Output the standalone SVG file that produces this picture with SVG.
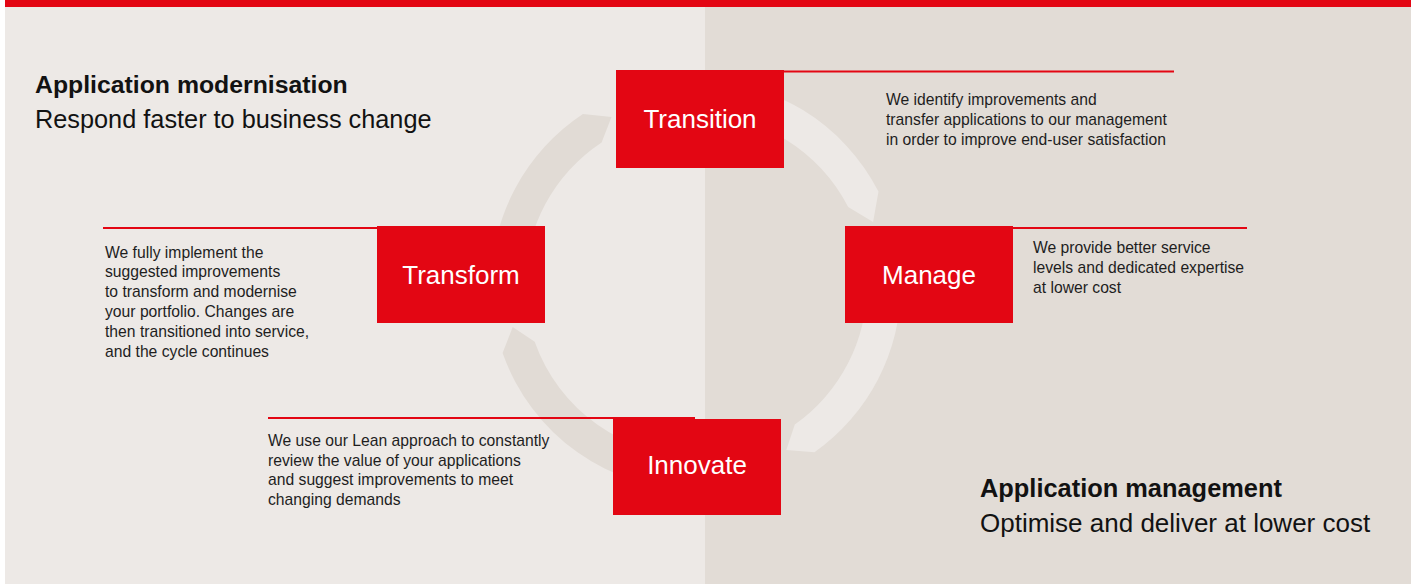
<svg xmlns="http://www.w3.org/2000/svg" xmlns:xlink="http://www.w3.org/1999/xlink" width="1416" height="584" viewBox="0 0 1416 584">
  <style>
    .box { fill: #e30613; }
    .label { font-family: "Liberation Sans", Arial, sans-serif; font-size: 26px; fill: #ffffff; text-anchor: middle; }
    .body { font-family: "Liberation Sans", Arial, sans-serif; font-size: 15.7px; fill: #1e1e1e; }
    .head { font-family: "Liberation Sans", Arial, sans-serif; font-weight: bold; fill: #121212; }
    .sub { font-family: "Liberation Sans", Arial, sans-serif; fill: #121212; }
    .leader { stroke: #e30613; stroke-width: 2; fill: none; }
  </style>
  <defs>
    <!-- four arc segments of the cycle, each ending in a pointed tip (clockwise) -->
    <g id="ring">
      <path d="M 491 285 A 205 205 0 0 1 582.9 114.1 L 611.5 117 L 601.6 142.4 A 171 171 0 0 0 525 285 Z"/>
      <path d="M 696 80 A 205 205 0 0 1 878.5 191.6 L 873.1 221.9 L 848.2 207.1 A 171 171 0 0 0 696 114 Z"/>
      <path d="M 901 285 A 205 205 0 0 1 814.5 452.3 L 786.3 449.9 L 794.8 424.6 A 171 171 0 0 0 867 285 Z"/>
      <path d="M 696 490 A 205 205 0 0 1 502.6 353.1 L 512.7 327 L 534.7 341.8 A 171 171 0 0 0 696 456 Z"/>
    </g>
    <clipPath id="clip-left"><rect x="0" y="0" width="705" height="584"/></clipPath>
    <clipPath id="clip-right"><rect x="705" y="0" width="711" height="584"/></clipPath>
  </defs>

  <!-- background panels -->
  <rect x="0" y="0" width="1416" height="584" fill="#ffffff"/>
  <rect x="5" y="0" width="700" height="584" fill="#ede9e6"/>
  <rect x="705" y="0" width="706" height="584" fill="#e2dcd6"/>
  <rect x="5" y="0" width="1406" height="7" fill="#e30613"/>

  <!-- headings -->
  <g id="heading-modernisation">
    <text class="head" x="35" y="93" font-size="24.8">Application modernisation</text>
    <text class="sub" x="35" y="128" font-size="25.3">Respond faster to business change</text>
  </g>
  <g id="heading-management">
    <text class="head" x="980" y="497" font-size="25.4">Application management</text>
    <text class="sub" x="980" y="531.5" font-size="26">Optimise and deliver at lower cost</text>
  </g>

  <g id="connectors">
    <use xlink:href="#ring" href="#ring" fill="#e1dbd5" clip-path="url(#clip-left)"/>
    <use xlink:href="#ring" href="#ring" fill="#ede9e6" clip-path="url(#clip-right)"/>
    <line class="leader" x1="784" y1="71.5" x2="1174" y2="71.5"/>
    <line class="leader" x1="1013" y1="228" x2="1247" y2="228"/>
    <line class="leader" x1="103" y1="228" x2="377" y2="228"/>
    <line class="leader" x1="268" y1="418" x2="695" y2="418"/>
  </g>

  <g id="node-transition">
    <rect class="box" x="616" y="70" width="168" height="98"/>
    <text class="label" x="700" y="127.5">Transition</text>
    <text class="body" x="886" y="105">We identify improvements and<tspan x="886" dy="20">transfer applications to our management</tspan><tspan x="886" dy="20">in order to improve end-user satisfaction</tspan></text>
  </g>

  <g id="node-manage">
    <rect class="box" x="845" y="226" width="168" height="97"/>
    <text class="label" x="929" y="283.5">Manage</text>
    <text class="body" x="1033" y="253">We provide better service<tspan x="1033" dy="20">levels and dedicated expertise</tspan><tspan x="1033" dy="20">at lower cost</tspan></text>
  </g>

  <g id="node-transform">
    <rect class="box" x="377" y="226" width="168" height="97"/>
    <text class="label" x="461" y="283.5">Transform</text>
    <text class="body" x="105" y="257.5">We fully implement the<tspan x="105" dy="19.9">suggested improvements</tspan><tspan x="105" dy="19.9">to transform and modernise</tspan><tspan x="105" dy="19.9">your portfolio. Changes are</tspan><tspan x="105" dy="19.9">then transitioned into service,</tspan><tspan x="105" dy="19.9">and the cycle continues</tspan></text>
  </g>

  <g id="node-innovate">
    <rect class="box" x="613" y="419" width="168" height="96"/>
    <text class="label" x="697" y="474">Innovate</text>
    <text class="body" x="268" y="446">We use our Lean approach to constantly<tspan x="268" dy="19.7">review the value of your applications</tspan><tspan x="268" dy="19.7">and suggest improvements to meet</tspan><tspan x="268" dy="19.7">changing demands</tspan></text>
  </g>
</svg>
